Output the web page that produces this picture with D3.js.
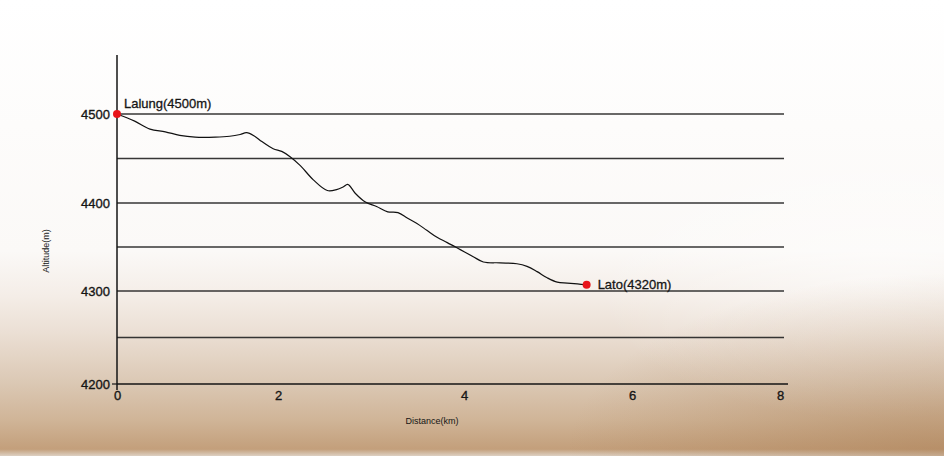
<!DOCTYPE html>
<html><head><meta charset="utf-8">
<script src="https://cdn.jsdelivr.net/npm/d3@7/dist/d3.min.js"></script>
<style>html,body{margin:0;padding:0;background:#fff;}svg{display:block;}</style>
</head><body>
<svg id="c" width="944" height="456"></svg>
<script>
// ---- data ----
const distanceKm = [0,0.22,0.41,0.60,0.78,0.97,1.22,1.40,1.53,1.61,1.71,1.80,1.94,2.04,2.13,2.24,2.38,2.53,2.63,2.70,2.75,2.83,2.94,3.06,3.18,3.29,3.39,3.49,3.60,3.71,3.82,3.96,4.11,4.23,4.43,4.63,4.75,4.87,4.99,5.11,5.23,5.35,5.46];
const altitudeM  = [4500,4492,4483,4480,4476,4474,4474,4475,4477,4479,4475,4469,4461,4458,4452,4442,4426,4414,4415,4418,4421,4411,4401,4396,4390,4389,4383,4377,4369,4361,4355,4347,4339,4333,4332,4331,4328,4322,4315,4310,4309,4308,4307];
const placeNames = ["Lalung(4500m)","Lato(4320m)"];
const placeDist  = [0,5.46];
const placeAlt   = [4500,4307];
const xTicks = [0,2,4,6,8];
const yTicks = [4200,4300,4400,4500];
const gridVals = [4250,4300,4350,4400,4450,4500];

const svg = d3.select("#c");
const W = 944, H = 456;

// background gradient (paper photo look)
const defs = svg.append("defs");
const lg = defs.append("linearGradient").attr("id","bg").attr("x1",0).attr("y1",0).attr("x2",0).attr("y2",1);
[[0,"#ffffff"],[0.55,"#fbf9f7"],[0.65,"#f4ede7"],[0.73,"#ebdfd4"],[0.84,"#dbc8b4"],[0.92,"#d0b598"],[0.985,"#c39f7b"],[1,"#ddd0c2"]]
  .forEach(s=>lg.append("stop").attr("offset",s[0]).attr("stop-color",s[1]));
const rg = defs.append("radialGradient").attr("id","corner").attr("cx",1).attr("cy",1).attr("r",0.4);
rg.append("stop").attr("offset",0).attr("stop-color","#a87b50").attr("stop-opacity",0.45);
rg.append("stop").attr("offset",1).attr("stop-color","#a87b50").attr("stop-opacity",0);
const rg2 = defs.append("radialGradient").attr("id","rwhite").attr("cx",0.93).attr("cy",0.62).attr("r",0.3);
rg2.append("stop").attr("offset",0).attr("stop-color","#ffffff").attr("stop-opacity",0.5);
rg2.append("stop").attr("offset",1).attr("stop-color","#ffffff").attr("stop-opacity",0);
svg.append("rect").attr("width",W).attr("height",H).attr("fill","url(#bg)");
svg.append("rect").attr("width",W).attr("height",H).attr("fill","url(#rwhite)");
svg.append("rect").attr("width",W).attr("height",H).attr("fill","url(#corner)");

// scales (polylinear to follow the printed chart)
const x = d3.scaleLinear().domain([0,2,4,6,8]).range([117,278,464,632,780]);
const y = d3.scaleLinear().domain([4200,4300,4400,4500]).range([384,291,203,114]);

const ink = "#151515";
const font = "'Liberation Sans', Arial, Helvetica, sans-serif";

// gridlines
svg.append("g").selectAll("line").data(gridVals).join("line")
  .attr("x1",x(0)).attr("x2",784)
  .attr("y1",d=>y(d)).attr("y2",d=>y(d))
  .attr("stroke","#222").attr("stroke-width",1.4).attr("opacity",0.9);

// x axis
const xAxis = d3.axisBottom(x).tickValues(xTicks).tickSize(0).tickPadding(7).tickFormat(d3.format("d"));
const gx = svg.append("g").attr("transform",`translate(0,${y(4200)})`).call(xAxis);
gx.select(".domain").remove();
gx.append("line").attr("x1",x(0)).attr("x2",788).attr("y1",0).attr("y2",0).attr("stroke",ink).attr("stroke-width",1.5);
gx.selectAll("text").attr("font-family",font).attr("font-size",13).attr("fill",ink).attr("stroke",ink).attr("stroke-width",0.35);

// y axis
const yAxis = d3.axisLeft(y).tickValues(yTicks).tickSize(0).tickPadding(7).tickFormat(d3.format("d"));
const gy = svg.append("g").attr("transform",`translate(${x(0)},0)`).call(yAxis);
gy.select(".domain").remove();
gy.append("line").attr("x1",0).attr("x2",0).attr("y1",55).attr("y2",y(4200)+6).attr("stroke",ink).attr("stroke-width",1.5);
gy.append("line").attr("x1",-5).attr("x2",0).attr("y1",y(4200)).attr("y2",y(4200)).attr("stroke",ink).attr("stroke-width",1.2);
gy.selectAll("text").attr("font-family",font).attr("font-size",13).attr("fill",ink).attr("stroke",ink).attr("stroke-width",0.35);

// axis titles
svg.append("text").attr("x",432).attr("y",424).attr("text-anchor","middle")
  .attr("font-family",font).attr("font-size",9).attr("fill",ink).text("Distance(km)");
svg.append("text").attr("transform","translate(49,251) rotate(-90)").attr("text-anchor","middle")
  .attr("font-family",font).attr("font-size",9).attr("fill",ink).text("Altitude(m)");

// profile line
const pts = distanceKm.map((d,i)=>[d,altitudeM[i]]);
svg.append("path").datum(pts)
  .attr("d",d3.line().x(d=>x(d[0])).y(d=>y(d[1])).curve(d3.curveCatmullRom.alpha(0.5)))
  .attr("fill","none").attr("stroke","#111").attr("stroke-width",1.2);

// places
const places = placeNames.map((n,i)=>({n,d:placeDist[i],a:placeAlt[i]}));
svg.append("g").selectAll("circle").data(places).join("circle")
  .attr("cx",d=>x(d.d)).attr("cy",d=>y(d.a)).attr("r",4).attr("fill","#e8141a");
svg.append("text").attr("x",x(placeDist[0])+7).attr("y",y(placeAlt[0])-6)
  .attr("font-family",font).attr("font-size",13).attr("fill",ink).attr("stroke",ink).attr("stroke-width",0.3).text(placeNames[0]);
svg.append("text").attr("x",x(placeDist[1])+11).attr("y",y(placeAlt[1])+4)
  .attr("font-family",font).attr("font-size",13).attr("fill",ink).attr("stroke",ink).attr("stroke-width",0.3).text(placeNames[1]);
</script>
</body></html>
